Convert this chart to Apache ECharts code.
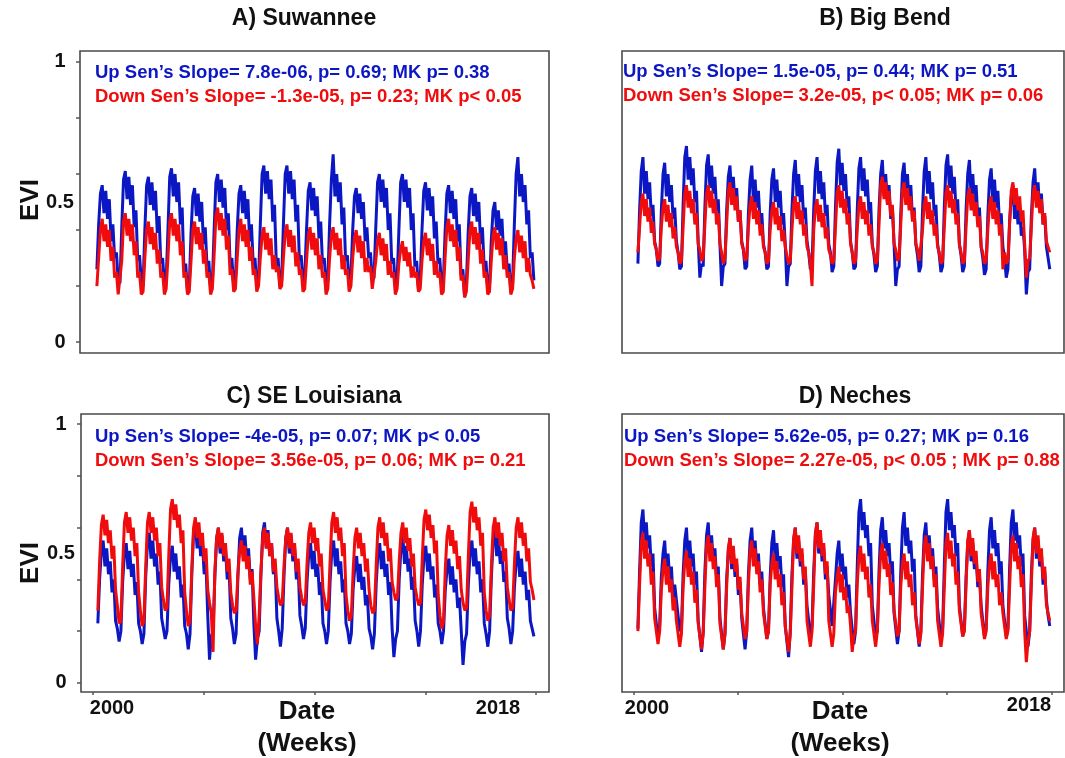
<!DOCTYPE html>
<html>
<head>
<meta charset="utf-8">
<script src="https://cdn.jsdelivr.net/npm/echarts@6/dist/echarts.min.js"></script>
<style>
  html, body { margin: 0; padding: 0; background: #fff; }
  #chart { width: 1065px; height: 758px; }
</style>
</head>
<body>
<div id="chart"></div>
<script>
// weekly EVI, read every 4th week, starting at week 11 of 2000
const weekStart = 11;
const weekStep = 4;

const suwanneeUp = [
  0.26,0.42,0.53,0.56,0.46,0.54,0.44,0.51,0.36,0.42,0.30,0.32,0.22,
  0.21,0.41,0.58,0.61,0.51,0.59,0.49,0.56,0.41,0.47,0.29,0.31,0.22,
  0.20,0.40,0.56,0.59,0.49,0.57,0.47,0.54,0.39,0.45,0.28,0.30,0.21,
  0.22,0.40,0.59,0.62,0.52,0.60,0.50,0.57,0.42,0.48,0.26,0.28,0.18,
  0.20,0.39,0.52,0.55,0.45,0.53,0.43,0.50,0.35,0.41,0.27,0.29,0.19,
  0.21,0.40,0.57,0.60,0.50,0.58,0.48,0.55,0.40,0.46,0.28,0.30,0.20,
  0.22,0.40,0.53,0.56,0.46,0.54,0.44,0.51,0.36,0.42,0.28,0.30,0.20,
  0.22,0.42,0.60,0.63,0.53,0.61,0.51,0.58,0.43,0.49,0.28,0.30,0.20,
  0.22,0.42,0.60,0.63,0.53,0.61,0.51,0.58,0.43,0.49,0.29,0.31,0.21,
  0.23,0.40,0.54,0.57,0.47,0.55,0.45,0.52,0.37,0.43,0.28,0.30,0.20,
  0.22,0.42,0.58,0.67,0.52,0.60,0.50,0.57,0.42,0.48,0.29,0.31,0.21,
  0.23,0.40,0.52,0.55,0.46,0.53,0.44,0.50,0.36,0.41,0.30,0.32,0.22,
  0.23,0.41,0.57,0.60,0.50,0.58,0.48,0.55,0.40,0.46,0.28,0.30,0.20,
  0.22,0.40,0.57,0.60,0.50,0.58,0.48,0.55,0.40,0.46,0.27,0.29,0.19,
  0.22,0.40,0.54,0.57,0.47,0.55,0.45,0.52,0.37,0.43,0.28,0.30,0.20,
  0.21,0.39,0.53,0.56,0.46,0.54,0.44,0.51,0.36,0.42,0.24,0.26,0.16,
  0.21,0.39,0.52,0.55,0.45,0.53,0.43,0.50,0.35,0.41,0.27,0.29,0.19,
  0.20,0.36,0.47,0.50,0.40,0.47,0.38,0.44,0.31,0.36,0.26,0.28,0.18,
  0.21,0.42,0.60,0.66,0.52,0.60,0.50,0.56,0.42,0.47,0.30,0.32,0.22
];
const suwanneeDown = [
  0.20,0.30,0.40,0.44,0.36,0.42,0.34,0.40,0.29,0.34,0.23,0.25,0.17,
  0.17,0.29,0.43,0.46,0.38,0.44,0.36,0.42,0.31,0.36,0.23,0.25,0.17,
  0.18,0.30,0.40,0.43,0.35,0.41,0.33,0.39,0.28,0.33,0.23,0.25,0.17,
  0.19,0.30,0.43,0.46,0.38,0.44,0.36,0.42,0.31,0.36,0.23,0.25,0.17,
  0.18,0.29,0.40,0.43,0.35,0.41,0.33,0.39,0.28,0.33,0.23,0.25,0.17,
  0.19,0.31,0.45,0.48,0.40,0.46,0.38,0.44,0.33,0.38,0.24,0.26,0.18,
  0.19,0.30,0.40,0.44,0.36,0.42,0.34,0.40,0.29,0.34,0.24,0.26,0.18,
  0.20,0.30,0.38,0.41,0.33,0.39,0.31,0.37,0.26,0.31,0.25,0.27,0.19,
  0.20,0.30,0.39,0.42,0.34,0.40,0.32,0.38,0.27,0.32,0.24,0.26,0.18,
  0.19,0.29,0.38,0.41,0.33,0.39,0.31,0.37,0.26,0.31,0.23,0.25,0.17,
  0.19,0.30,0.38,0.41,0.33,0.39,0.31,0.37,0.26,0.31,0.24,0.26,0.18,
  0.20,0.30,0.37,0.40,0.32,0.38,0.30,0.36,0.25,0.30,0.25,0.27,0.19,
  0.19,0.29,0.36,0.39,0.31,0.37,0.29,0.35,0.24,0.29,0.23,0.25,0.17,
  0.19,0.28,0.33,0.36,0.29,0.34,0.27,0.32,0.23,0.27,0.23,0.25,0.18,
  0.19,0.29,0.36,0.39,0.31,0.37,0.29,0.35,0.24,0.29,0.23,0.25,0.17,
  0.18,0.30,0.41,0.44,0.36,0.42,0.34,0.40,0.29,0.34,0.22,0.24,0.16,
  0.18,0.29,0.40,0.43,0.35,0.41,0.33,0.39,0.28,0.33,0.23,0.25,0.17,
  0.18,0.29,0.38,0.41,0.33,0.39,0.31,0.37,0.26,0.31,0.23,0.25,0.17,
  0.19,0.30,0.37,0.40,0.32,0.38,0.30,0.36,0.25,0.30,0.24,0.22,0.19
];
const bigBendUp = [
  0.28,0.47,0.61,0.66,0.53,0.61,0.51,0.57,0.45,0.49,0.36,0.33,0.27,
  0.28,0.47,0.60,0.64,0.52,0.60,0.50,0.56,0.44,0.48,0.36,0.32,0.26,
  0.27,0.49,0.66,0.70,0.58,0.66,0.56,0.62,0.50,0.54,0.36,0.23,0.28,
  0.27,0.48,0.63,0.67,0.55,0.63,0.53,0.59,0.47,0.51,0.35,0.20,0.27,
  0.28,0.47,0.59,0.63,0.51,0.59,0.49,0.55,0.43,0.47,0.36,0.33,0.26,
  0.27,0.46,0.58,0.63,0.50,0.58,0.48,0.54,0.42,0.46,0.35,0.32,0.26,
  0.27,0.46,0.58,0.62,0.50,0.58,0.48,0.54,0.42,0.46,0.35,0.20,0.27,
  0.28,0.47,0.60,0.65,0.52,0.60,0.50,0.56,0.44,0.48,0.36,0.32,0.26,
  0.27,0.47,0.61,0.66,0.53,0.61,0.51,0.57,0.45,0.49,0.35,0.32,0.25,
  0.27,0.48,0.64,0.69,0.56,0.64,0.54,0.60,0.48,0.52,0.36,0.32,0.26,
  0.27,0.47,0.62,0.66,0.54,0.62,0.52,0.58,0.46,0.50,0.35,0.31,0.25,
  0.27,0.47,0.60,0.65,0.52,0.60,0.50,0.56,0.44,0.48,0.35,0.20,0.26,
  0.27,0.46,0.60,0.64,0.52,0.60,0.50,0.56,0.44,0.48,0.35,0.31,0.25,
  0.27,0.47,0.61,0.66,0.53,0.61,0.51,0.57,0.45,0.49,0.35,0.31,0.25,
  0.27,0.48,0.63,0.67,0.55,0.63,0.53,0.59,0.47,0.51,0.35,0.31,0.25,
  0.27,0.47,0.60,0.65,0.52,0.60,0.50,0.56,0.44,0.48,0.34,0.30,0.24,
  0.26,0.45,0.58,0.62,0.50,0.58,0.48,0.54,0.42,0.46,0.34,0.30,0.23,
  0.26,0.43,0.52,0.56,0.44,0.52,0.42,0.48,0.38,0.41,0.33,0.17,0.25,
  0.26,0.45,0.57,0.62,0.50,0.57,0.47,0.53,0.42,0.45,0.34,0.30,0.26
];
const bigBendDown = [
  0.32,0.41,0.50,0.53,0.45,0.51,0.43,0.48,0.39,0.43,0.35,0.33,0.29,
  0.30,0.41,0.48,0.51,0.43,0.49,0.41,0.46,0.37,0.41,0.34,0.32,0.28,
  0.29,0.41,0.53,0.56,0.48,0.54,0.46,0.51,0.42,0.46,0.35,0.33,0.29,
  0.30,0.42,0.53,0.56,0.48,0.54,0.46,0.51,0.42,0.46,0.35,0.32,0.28,
  0.30,0.42,0.54,0.57,0.49,0.55,0.47,0.52,0.43,0.47,0.35,0.33,0.29,
  0.30,0.41,0.49,0.52,0.44,0.50,0.42,0.47,0.38,0.42,0.34,0.32,0.28,
  0.29,0.40,0.47,0.50,0.42,0.48,0.40,0.45,0.36,0.40,0.34,0.31,0.28,
  0.29,0.40,0.49,0.52,0.44,0.50,0.42,0.47,0.38,0.42,0.34,0.32,0.28,
  0.20,0.40,0.48,0.51,0.43,0.49,0.41,0.46,0.37,0.41,0.33,0.31,0.28,
  0.29,0.41,0.53,0.56,0.48,0.54,0.46,0.51,0.42,0.46,0.35,0.32,0.28,
  0.29,0.40,0.49,0.52,0.44,0.50,0.42,0.47,0.38,0.42,0.34,0.32,0.28,
  0.29,0.42,0.56,0.59,0.51,0.57,0.49,0.54,0.45,0.49,0.35,0.33,0.29,
  0.30,0.42,0.54,0.57,0.49,0.55,0.47,0.52,0.43,0.47,0.35,0.33,0.29,
  0.29,0.40,0.49,0.52,0.44,0.50,0.42,0.47,0.38,0.42,0.34,0.32,0.28,
  0.29,0.41,0.53,0.56,0.48,0.54,0.46,0.51,0.42,0.46,0.35,0.32,0.28,
  0.29,0.41,0.52,0.55,0.47,0.53,0.45,0.50,0.41,0.45,0.34,0.32,0.28,
  0.29,0.40,0.49,0.52,0.44,0.50,0.42,0.47,0.38,0.42,0.26,0.32,0.28,
  0.29,0.42,0.54,0.57,0.49,0.55,0.47,0.52,0.43,0.47,0.35,0.23,0.29,
  0.30,0.41,0.53,0.56,0.48,0.54,0.46,0.51,0.42,0.46,0.36,0.34,0.32
];
const louisianaUp = [
  0.23,0.40,0.51,0.55,0.45,0.52,0.42,0.47,0.35,0.40,0.24,0.21,0.16,
  0.20,0.39,0.50,0.54,0.44,0.51,0.41,0.46,0.34,0.39,0.23,0.20,0.15,
  0.19,0.41,0.54,0.58,0.48,0.55,0.45,0.50,0.38,0.43,0.25,0.21,0.17,
  0.20,0.38,0.49,0.53,0.43,0.50,0.40,0.45,0.33,0.38,0.22,0.19,0.13,
  0.19,0.42,0.58,0.62,0.52,0.59,0.49,0.54,0.42,0.46,0.26,0.09,0.18,
  0.20,0.41,0.56,0.60,0.50,0.57,0.47,0.52,0.40,0.45,0.25,0.21,0.15,
  0.19,0.41,0.56,0.60,0.50,0.57,0.47,0.52,0.40,0.44,0.23,0.09,0.17,
  0.20,0.42,0.58,0.62,0.52,0.59,0.49,0.54,0.42,0.46,0.25,0.20,0.14,
  0.21,0.41,0.56,0.60,0.50,0.57,0.47,0.52,0.40,0.45,0.26,0.22,0.17,
  0.21,0.39,0.50,0.54,0.44,0.51,0.41,0.46,0.34,0.39,0.23,0.20,0.15,
  0.20,0.39,0.51,0.55,0.45,0.52,0.42,0.47,0.35,0.40,0.23,0.20,0.15,
  0.19,0.36,0.45,0.49,0.39,0.46,0.36,0.41,0.30,0.34,0.21,0.18,0.13,
  0.19,0.38,0.50,0.54,0.44,0.51,0.41,0.46,0.34,0.39,0.21,0.10,0.17,
  0.20,0.40,0.52,0.57,0.46,0.53,0.43,0.48,0.36,0.41,0.24,0.20,0.14,
  0.20,0.38,0.49,0.53,0.43,0.50,0.40,0.45,0.33,0.38,0.23,0.20,0.15,
  0.20,0.36,0.44,0.48,0.38,0.45,0.35,0.40,0.29,0.33,0.20,0.07,0.16,
  0.19,0.38,0.51,0.55,0.45,0.52,0.42,0.47,0.35,0.40,0.23,0.19,0.14,
  0.20,0.41,0.55,0.59,0.49,0.56,0.46,0.51,0.39,0.43,0.25,0.21,0.15,
  0.20,0.37,0.47,0.51,0.41,0.48,0.38,0.43,0.32,0.36,0.24,0.21,0.18
];
const louisianaDown = [
  0.28,0.47,0.61,0.65,0.57,0.63,0.54,0.59,0.48,0.53,0.36,0.30,0.23,
  0.24,0.45,0.62,0.66,0.58,0.64,0.55,0.60,0.49,0.54,0.35,0.28,0.22,
  0.24,0.45,0.62,0.66,0.58,0.64,0.55,0.60,0.49,0.54,0.37,0.32,0.28,
  0.29,0.49,0.67,0.71,0.63,0.69,0.60,0.65,0.54,0.59,0.35,0.28,0.22,
  0.24,0.44,0.60,0.64,0.56,0.62,0.53,0.58,0.47,0.52,0.36,0.31,0.27,
  0.12,0.43,0.56,0.60,0.52,0.58,0.49,0.54,0.43,0.48,0.35,0.30,0.27,
  0.28,0.42,0.51,0.55,0.47,0.53,0.44,0.49,0.38,0.43,0.33,0.22,0.15,
  0.26,0.43,0.56,0.60,0.52,0.58,0.49,0.54,0.43,0.48,0.37,0.33,0.30,
  0.31,0.45,0.56,0.60,0.52,0.58,0.49,0.54,0.43,0.48,0.37,0.33,0.30,
  0.31,0.46,0.58,0.62,0.54,0.60,0.51,0.56,0.45,0.50,0.36,0.32,0.28,
  0.29,0.47,0.62,0.66,0.58,0.64,0.55,0.60,0.49,0.54,0.34,0.28,0.24,
  0.26,0.43,0.56,0.60,0.52,0.58,0.49,0.54,0.43,0.48,0.36,0.30,0.27,
  0.28,0.45,0.60,0.64,0.56,0.62,0.53,0.58,0.47,0.52,0.39,0.35,0.32,
  0.33,0.47,0.58,0.62,0.54,0.60,0.51,0.56,0.45,0.50,0.37,0.33,0.30,
  0.31,0.48,0.63,0.67,0.59,0.65,0.56,0.61,0.50,0.55,0.34,0.26,0.21,
  0.24,0.44,0.57,0.61,0.53,0.59,0.50,0.55,0.44,0.49,0.36,0.31,0.28,
  0.29,0.49,0.66,0.70,0.62,0.68,0.59,0.64,0.53,0.58,0.35,0.28,0.24,
  0.26,0.45,0.60,0.64,0.56,0.62,0.53,0.58,0.47,0.52,0.37,0.32,0.28,
  0.29,0.46,0.60,0.64,0.56,0.62,0.53,0.58,0.47,0.52,0.39,0.36,0.32
];
const nechesUp = [
  0.21,0.43,0.62,0.67,0.55,0.62,0.52,0.57,0.45,0.50,0.29,0.23,0.17,
  0.22,0.41,0.50,0.55,0.43,0.50,0.40,0.45,0.33,0.38,0.32,0.26,0.20,
  0.21,0.42,0.55,0.60,0.48,0.55,0.45,0.50,0.38,0.43,0.24,0.18,0.12,
  0.20,0.43,0.57,0.62,0.50,0.57,0.47,0.52,0.40,0.45,0.25,0.19,0.13,
  0.19,0.40,0.51,0.56,0.44,0.51,0.41,0.46,0.34,0.39,0.25,0.19,0.13,
  0.20,0.42,0.55,0.60,0.48,0.55,0.45,0.50,0.38,0.43,0.29,0.23,0.17,
  0.20,0.41,0.54,0.59,0.47,0.54,0.44,0.49,0.37,0.42,0.22,0.16,0.10,
  0.20,0.42,0.55,0.60,0.48,0.55,0.45,0.50,0.38,0.43,0.30,0.24,0.18,
  0.22,0.43,0.57,0.62,0.50,0.57,0.47,0.52,0.40,0.45,0.34,0.28,0.22,
  0.22,0.40,0.50,0.55,0.43,0.50,0.40,0.45,0.33,0.38,0.27,0.21,0.15,
  0.20,0.45,0.66,0.71,0.59,0.66,0.56,0.61,0.49,0.54,0.30,0.24,0.18,
  0.20,0.43,0.59,0.64,0.52,0.59,0.49,0.54,0.42,0.47,0.27,0.21,0.15,
  0.20,0.43,0.60,0.66,0.53,0.60,0.50,0.55,0.43,0.48,0.26,0.20,0.14,
  0.20,0.42,0.57,0.62,0.50,0.57,0.47,0.52,0.40,0.45,0.29,0.23,0.17,
  0.21,0.45,0.66,0.71,0.59,0.66,0.56,0.61,0.49,0.54,0.30,0.24,0.18,
  0.21,0.41,0.54,0.59,0.47,0.54,0.44,0.49,0.37,0.42,0.30,0.24,0.18,
  0.21,0.43,0.59,0.64,0.52,0.59,0.49,0.54,0.42,0.47,0.30,0.24,0.18,
  0.21,0.44,0.62,0.67,0.55,0.62,0.52,0.57,0.45,0.50,0.26,0.20,0.14,
  0.20,0.42,0.55,0.60,0.48,0.55,0.45,0.50,0.38,0.43,0.32,0.26,0.22
];
const nechesDown = [
  0.20,0.38,0.54,0.58,0.48,0.55,0.45,0.50,0.38,0.43,0.25,0.20,0.15,
  0.20,0.36,0.44,0.48,0.38,0.45,0.35,0.40,0.28,0.33,0.24,0.19,0.14,
  0.19,0.37,0.47,0.51,0.41,0.48,0.38,0.43,0.31,0.36,0.23,0.18,0.13,
  0.19,0.37,0.53,0.57,0.47,0.54,0.44,0.49,0.37,0.42,0.23,0.18,0.13,
  0.19,0.37,0.52,0.56,0.46,0.53,0.43,0.48,0.36,0.41,0.27,0.22,0.17,
  0.20,0.38,0.51,0.55,0.45,0.52,0.42,0.47,0.35,0.40,0.27,0.22,0.17,
  0.20,0.38,0.46,0.50,0.40,0.47,0.37,0.42,0.30,0.35,0.22,0.17,0.12,
  0.19,0.37,0.56,0.60,0.50,0.57,0.47,0.52,0.40,0.45,0.24,0.19,0.14,
  0.20,0.38,0.58,0.62,0.52,0.59,0.49,0.54,0.42,0.47,0.24,0.19,0.14,
  0.19,0.35,0.41,0.45,0.35,0.42,0.32,0.37,0.27,0.30,0.22,0.12,0.18,
  0.20,0.38,0.49,0.53,0.43,0.50,0.40,0.45,0.33,0.38,0.24,0.19,0.14,
  0.20,0.38,0.50,0.54,0.44,0.51,0.41,0.46,0.34,0.39,0.28,0.23,0.18,
  0.20,0.37,0.46,0.50,0.40,0.47,0.37,0.42,0.30,0.35,0.25,0.20,0.15,
  0.19,0.37,0.53,0.57,0.47,0.54,0.44,0.49,0.37,0.42,0.24,0.19,0.14,
  0.19,0.37,0.54,0.58,0.48,0.55,0.45,0.50,0.38,0.43,0.28,0.23,0.18,
  0.20,0.38,0.55,0.59,0.49,0.56,0.46,0.51,0.39,0.44,0.27,0.22,0.17,
  0.20,0.37,0.46,0.50,0.40,0.47,0.37,0.42,0.30,0.35,0.27,0.22,0.17,
  0.20,0.37,0.53,0.57,0.47,0.54,0.44,0.49,0.37,0.42,0.20,0.08,0.16,
  0.20,0.38,0.56,0.60,0.50,0.57,0.47,0.52,0.40,0.45,0.30,0.27,0.24
];

const panelTitles = ['A) Suwannee', 'B) Big Bend', 'C) SE Louisiana', 'D) Neches'];
const upNotes = [
  'Up Sen\u2019s Slope= 7.8e-06, p= 0.69; MK p= 0.38',
  'Up Sen\u2019s Slope= 1.5e-05, p= 0.44; MK p= 0.51',
  'Up Sen\u2019s Slope= -4e-05, p= 0.07; MK p< 0.05',
  'Up Sen\u2019s Slope= 5.62e-05, p= 0.27; MK p= 0.16'
];
const downNotes = [
  'Down Sen\u2019s Slope= -1.3e-05, p= 0.23; MK p< 0.05',
  'Down Sen\u2019s Slope= 3.2e-05, p< 0.05; MK p= 0.06',
  'Down Sen\u2019s Slope= 3.56e-05, p= 0.06; MK p= 0.21',
  'Down Sen\u2019s Slope= 2.27e-05, p< 0.05 ; MK p= 0.88'
];
const yTicks = [0, 0.2, 0.4, 0.6, 0.8, 1];
const yLabels = [0, 0.5, 1];
const xTicks = [0, 250, 500, 750, 1000];

const upColor = '#0c17c4';
const downColor = '#f00c0c';
const font = '"Liberation Sans", Arial, sans-serif';

const upData = [suwanneeUp, bigBendUp, louisianaUp, nechesUp];
const downData = [suwanneeDown, bigBendDown, louisianaDown, nechesDown];

function toPairs(vals) {
  return vals.map((v, i) => [weekStart + i * weekStep, v]);
}

const grids = [
  { left: 80, top: 51, width: 469, height: 302 },
  { left: 622, top: 51, width: 442, height: 302 },
  { left: 81, top: 414, width: 468, height: 278 },
  { left: 622, top: 414, width: 442, height: 278 }
];
const yRange = [[-0.039, 1.039], [-0.039, 1.039], [-0.035, 1.039], [-0.035, 1.039]];

const chart = echarts.init(document.getElementById('chart'));

const option = {
  animation: false,
  backgroundColor: '#fff',
  grid: grids.map(g => Object.assign({ show: true, borderColor: '#4a4a4a', borderWidth: 1.6 }, g)),
  xAxis: grids.map((g, i) => ({
    type: 'value',
    gridIndex: i,
    min: -27,
    max: 1029,
    axisLine: { show: false, onZero: false },
    splitLine: { show: false },
    axisLabel: { show: false },
    axisTick: i >= 2
      ? { show: true, customValues: xTicks, length: 3, lineStyle: { color: '#555', width: 1.5 } }
      : { show: false }
  })),
  yAxis: grids.map((g, i) => ({
    type: 'value',
    gridIndex: i,
    min: yRange[i][0],
    max: yRange[i][1],
    axisLine: { show: false, onZero: false },
    splitLine: { show: false },
    axisTick: (i === 0 || i === 2)
      ? { show: true, customValues: yTicks, length: 4, lineStyle: { color: '#555', width: 1.5 } }
      : { show: false },
    axisLabel: (i === 0 || i === 2)
      ? {
          show: true, customValues: yLabels, align: 'center', margin: 20,
          fontFamily: font, fontWeight: 'bold', fontSize: 20, color: '#111',
          formatter: v => String(v)
        }
      : { show: false }
  })),
  series: [],
  graphic: []
};

for (let i = 0; i < 4; i++) {
  option.series.push({
    name: 'Up ' + i, type: 'line', xAxisIndex: i, yAxisIndex: i,
    data: toPairs(upData[i]), showSymbol: false, symbol: 'none',
    lineStyle: { color: upColor, width: 3 }, z: 2
  });
  option.series.push({
    name: 'Down ' + i, type: 'line', xAxisIndex: i, yAxisIndex: i,
    data: toPairs(downData[i]), showSymbol: false, symbol: 'none',
    lineStyle: { color: downColor, width: 3 }, z: 3
  });
}

function txt(text, x, y, size, color, align, rotation) {
  return {
    type: 'text', x: x, y: y, rotation: rotation || 0, z: 10,
    style: {
      text: text, fill: color, textAlign: align || 'center', textVerticalAlign: 'middle',
      font: 'bold ' + size + 'px ' + font
    }
  };
}

const titlePos = [[304, 19], [885, 19], [314, 397], [855, 397]];
const notePos = [[95, 73], [623, 72], [95, 437], [624, 437]];
for (let i = 0; i < 4; i++) {
  option.graphic.push(txt(panelTitles[i], titlePos[i][0], titlePos[i][1], 23, '#111'));
  option.graphic.push(txt(upNotes[i], notePos[i][0], notePos[i][1], 18.5, upColor, 'left'));
  option.graphic.push(txt(downNotes[i], notePos[i][0], notePos[i][1] + 24, 18.5, downColor, 'left'));
}
option.graphic.push(txt('EVI', 31, 200, 26, '#111', 'center', Math.PI / 2));
option.graphic.push(txt('EVI', 31, 563, 26, '#111', 'center', Math.PI / 2));
option.graphic.push(txt('2000', 112, 708, 20, '#111'));
option.graphic.push(txt('2018', 498, 708, 20, '#111'));
option.graphic.push(txt('2000', 647, 708, 20, '#111'));
option.graphic.push(txt('2018', 1029, 705, 20, '#111'));
option.graphic.push(txt('Date', 307, 712, 26, '#111'));
option.graphic.push(txt('(Weeks)', 307, 744, 26, '#111'));
option.graphic.push(txt('Date', 840, 712, 26, '#111'));
option.graphic.push(txt('(Weeks)', 840, 744, 26, '#111'));

chart.setOption(option);
</script>
</body>
</html>
